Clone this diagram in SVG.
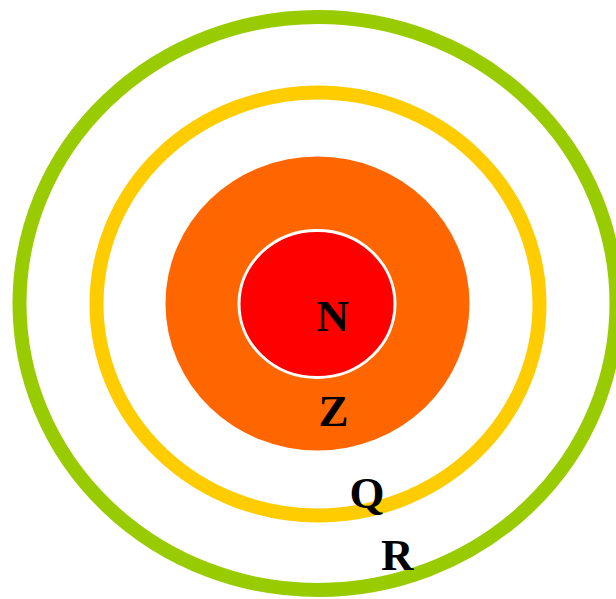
<svg xmlns="http://www.w3.org/2000/svg" width="616" height="599" viewBox="0 0 616 599">
<style>
.lbl{font-family:"Liberation Serif","Times New Roman",serif;font-weight:bold;font-size:45px;fill:#000}
</style>
<rect width="616" height="599" fill="#fff"/>
<g id="ring-R"><ellipse cx="318" cy="303.5" rx="298.5" ry="286.5" fill="none" stroke="#99CC00" stroke-width="14"/></g>
<g id="ring-Q"><ellipse cx="318" cy="304" rx="221.5" ry="211.5" fill="none" stroke="#FFCC00" stroke-width="14"/></g>
<g id="shell-Z"><ellipse cx="317.5" cy="303.5" rx="152" ry="147" fill="#FF6600"/></g>
<g id="core-N"><ellipse cx="317" cy="304" rx="78" ry="73.5" fill="#FF0000" stroke="#fff" stroke-width="3"/></g>
<g id="labels">
<text class="lbl" x="316.5" y="331">N</text>
<text class="lbl" x="318.5" y="426">Z</text>
<text class="lbl" x="349.5" y="508">Q</text>
<text class="lbl" x="381" y="570">R</text>
</g>
<g id="connectors"/>
</svg>
